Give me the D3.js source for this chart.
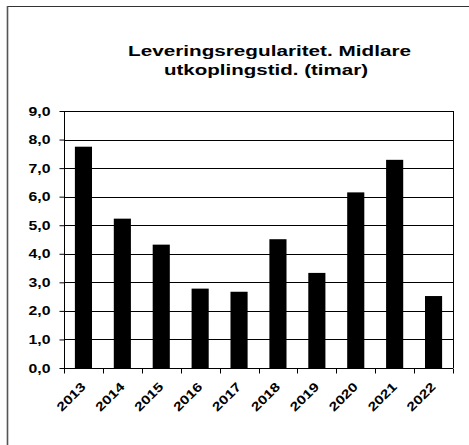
<!DOCTYPE html>
<html lang="no">
<head>
    <meta charset="UTF-8">
    <title>Leveringsregularitet</title>
    <script src="https://cdn.jsdelivr.net/npm/d3@7"></script>
    <style>
        body {
            margin: 0;
            background: #ffffff;
            font-family: 'Liberation Sans', Arial, sans-serif;
        }
        .tick text {
            font-size: 12.5px;
            font-weight: bold;
            fill: #000;
        }
    </style>
</head>
<body>
    <div id="chart"></div>
    <script>
        const years = ["2013", "2014", "2015", "2016", "2017", "2018", "2019", "2020", "2021", "2022"];
        const hours = [7.75, 5.23, 4.32, 2.78, 2.67, 4.51, 3.33, 6.15, 7.29, 2.52];
        const yTicks = [0, 1, 2, 3, 4, 5, 6, 7, 8, 9];
        const titleLines = ["Leveringsregularitet. Midlare", "utkoplingstid. (timar)"];

        const width = 469;
        const height = 445;
        const margin = { top: 111, right: 16, bottom: 77, left: 64 };
        const plotW = width - margin.left - margin.right;
        const plotH = height - margin.top - margin.bottom;

        // the source image is stretched sideways, so text gets a fixed length
        const titlePos = [{ x: 128, y: 56, len: 283 }, { x: 164, y: 75, len: 204 }];

        const svg = d3.select("#chart").append("svg")
            .attr("width", width)
            .attr("height", height)
            .style("font-family", "'Liberation Sans', Arial, sans-serif");

        // outer chart frame (only top and left edges are inside the picture)
        svg.append("line")
            .attr("x1", 7).attr("x2", width)
            .attr("y1", 6.5).attr("y2", 6.5)
            .attr("stroke", "#333");
        svg.append("line")
            .attr("x1", 7.5).attr("x2", 7.5)
            .attr("y1", 6).attr("y2", height)
            .attr("stroke", "#555")
            .attr("stroke-width", 1.6);

        svg.selectAll(".title")
            .data(titleLines)
            .enter().append("text")
            .attr("x", (d, i) => titlePos[i].x)
            .attr("y", (d, i) => titlePos[i].y)
            .attr("textLength", (d, i) => titlePos[i].len)
            .attr("lengthAdjust", "spacingAndGlyphs")
            .attr("font-size", "15px")
            .attr("font-weight", "bold")
            .text(d => d);

        const x = d3.scaleBand().domain(years).range([0, plotW]).paddingInner(0.56).paddingOuter(0.28);
        const y = d3.scaleLinear().domain([0, 9]).range([plotH, 0]);

        const g = svg.append("g")
            .attr("transform", `translate(${margin.left},${margin.top})`);

        // gridlines
        g.selectAll(".grid")
            .data(yTicks.slice(1))
            .enter().append("line")
            .attr("x1", 0)
            .attr("x2", plotW)
            .attr("y1", d => Math.round(y(d)) + 0.5)
            .attr("y2", d => Math.round(y(d)) + 0.5)
            .attr("stroke", "#000")
            .attr("stroke-width", 1);

        // right border of plot
        g.append("line")
            .attr("x1", plotW + 0.5).attr("x2", plotW + 0.5)
            .attr("y1", 0).attr("y2", plotH)
            .attr("stroke", "#000");

        g.selectAll(".bar")
            .data(hours)
            .enter().append("rect")
            .attr("x", (d, i) => x(years[i]))
            .attr("y", d => y(d))
            .attr("width", x.bandwidth())
            .attr("height", d => plotH - y(d))
            .attr("fill", "#000");

        const yAxis = g.append("g")
            .attr("transform", "translate(0.5,0)")
            .call(d3.axisLeft(y).tickValues(yTicks).tickSize(5).tickPadding(9)
                .tickFormat(d => d3.format(".1f")(d).replace(".", ",")));
        yAxis.selectAll("line, path").attr("stroke", "#000");
        yAxis.select(".domain").attr("d", `M0,0V${plotH}`);
        yAxis.selectAll("text")
            .attr("font-family", null)
            .attr("font-size", null)
            .attr("textLength", 22)
            .attr("lengthAdjust", "spacingAndGlyphs");

        // x axis with ticks between categories
        const xb = d3.scaleLinear().domain([0, years.length]).range([0, plotW]);
        const xAxis = g.append("g")
            .attr("transform", `translate(0,${Math.round(plotH) + 0.5})`);
        xAxis.append("line")
            .attr("x1", 0).attr("x2", plotW)
            .attr("stroke", "#000");
        xAxis.selectAll(".xt")
            .data(d3.range(years.length + 1))
            .enter().append("line")
            .attr("x1", d => Math.round(xb(d)) + 0.5)
            .attr("x2", d => Math.round(xb(d)) + 0.5)
            .attr("y1", 0).attr("y2", 5)
            .attr("stroke", "#000");
        xAxis.selectAll(".xl")
            .data(years)
            .enter().append("text")
            .attr("font-size", "12.5px")
            .attr("font-weight", "bold")
            .attr("text-anchor", "end")
            .attr("textLength", 35)
            .attr("lengthAdjust", "spacingAndGlyphs")
            .attr("transform", d => `translate(${x(d) + x.bandwidth() / 2 + 3},${19}) rotate(-45)`)
            .text(d => d);
    </script>
</body>
</html>
